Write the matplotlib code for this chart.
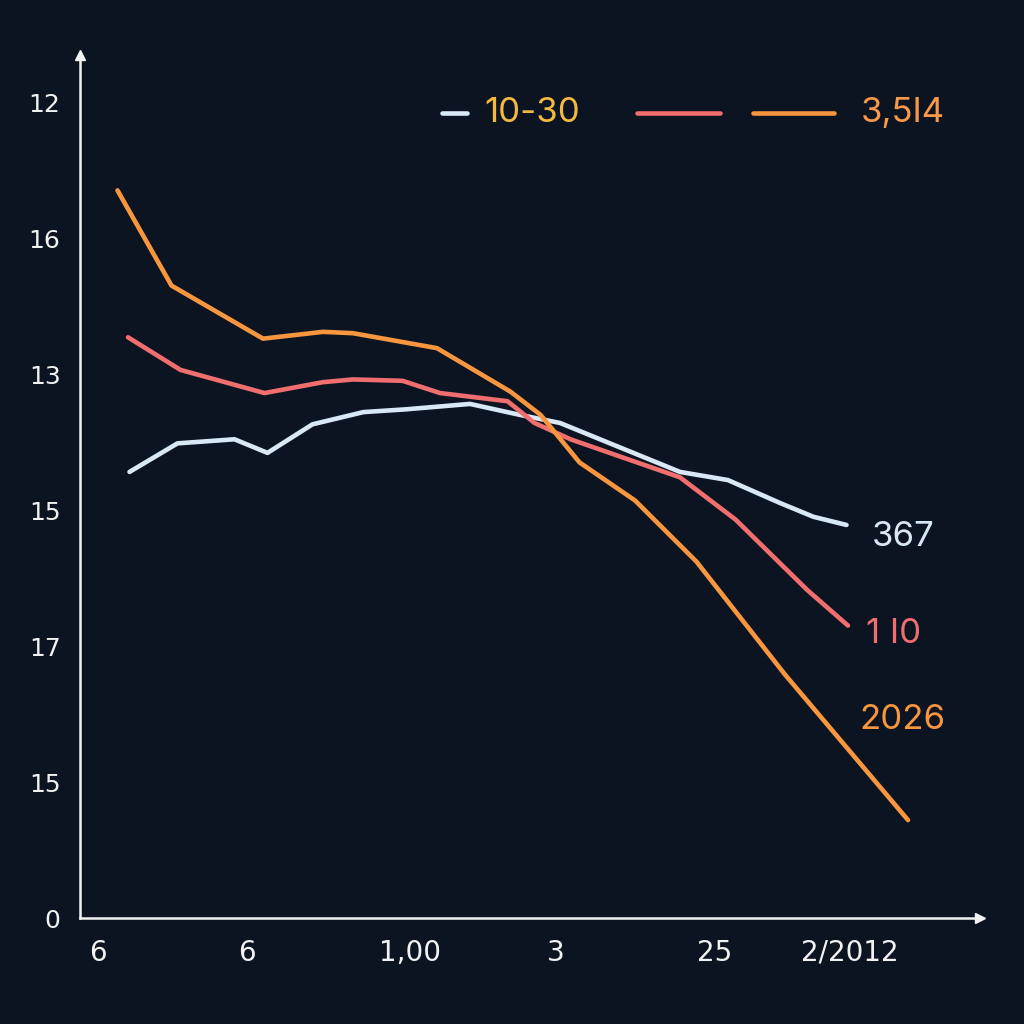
import matplotlib
matplotlib.use("Agg")
import matplotlib.pyplot as plt
from matplotlib.lines import Line2D

# ---- data ----
x_white = [0.33, 0.65, 1.03, 1.25, 1.55, 1.89, 2.17, 2.60, 2.93, 3.20, 4.00, 4.32, 4.67, 4.89, 5.11]
y_white = [3.28, 3.49, 3.52, 3.42, 3.63, 3.72, 3.74, 3.78, 3.70, 3.64, 3.28, 3.22, 3.05, 2.95, 2.89]

x_red = [0.32, 0.67, 1.23, 1.62, 1.82, 2.15, 2.40, 2.85, 3.03, 3.27, 4.00, 4.37, 4.85, 5.12]
y_red = [4.27, 4.03, 3.86, 3.94, 3.96, 3.95, 3.86, 3.80, 3.64, 3.52, 3.24, 2.93, 2.41, 2.15]

x_orange = [0.25, 0.61, 1.22, 1.62, 1.82, 2.38, 2.87, 3.07, 3.33, 3.70, 4.11, 4.70, 5.52]
y_orange = [5.35, 4.65, 4.26, 4.31, 4.30, 4.19, 3.87, 3.70, 3.35, 3.07, 2.62, 1.79, 0.72]

y_tick_pos = [0, 1, 2, 3, 4, 5, 6]
y_tick_labels = ["0", "15", "17", "15", "13", "16", "12"]
x_tick_pos = [0.12, 1.11, 2.20, 3.17, 4.23, 5.13]
x_tick_labels = ["6", "6", "1,00", "3", "25", "2/2012"]

legend_labels = ["10-30", "", "3,5I4"]
end_labels = ["367", "1 I0", "2026"]

# ---- style ----
BG = "#0d1421"
C_WHITE = "#d8e9f5"
C_RED = "#f06e6e"
C_ORANGE = "#f7963f"
C_LEG1 = "#f4b941"
C_LEG3 = "#f7984a"
AX = "#f2f2f2"

fig = plt.figure(figsize=(10.24, 10.24), dpi=100, facecolor=BG)
ax = fig.add_axes([80/1024, (1024-918)/1024, (980-80)/1024, (918-55)/1024])
ax.set_facecolor(BG)
ax.set_xlim(0, 6.0)
ax.set_ylim(0, (918-55)/136)

for s in ["top", "right"]:
    ax.spines[s].set_visible(False)
for s in ["left", "bottom"]:
    ax.spines[s].set_color(AX)
    ax.spines[s].set_linewidth(1.8)

# arrow heads
ax.plot(1, 0, ">", color=AX, markersize=7, transform=ax.transAxes, clip_on=False)
ax.plot(0, 1, "^", color=AX, markersize=7, transform=ax.transAxes, clip_on=False)

ax.set_yticks(y_tick_pos)
ax.set_yticklabels(y_tick_labels, fontsize=18, color=AX, family="DejaVu Sans")
ax.set_xticks(x_tick_pos)
ax.set_xticklabels(x_tick_labels, fontsize=20, color=AX, family="DejaVu Sans")
ax.tick_params(axis="both", length=0)
ax.tick_params(axis="y", pad=14)
ax.tick_params(axis="x", pad=15)

lw = 3.3
ax.plot(x_white, y_white, color=C_WHITE, lw=lw, solid_capstyle="round", solid_joinstyle="round")
ax.plot(x_red, y_red, color=C_RED, lw=lw, solid_capstyle="round", solid_joinstyle="round")
ax.plot(x_orange, y_orange, color=C_ORANGE, lw=lw, solid_capstyle="round", solid_joinstyle="round")

# end labels
fs_end = 25
ax.annotate(end_labels[0], (x_white[-1], y_white[-1]), xytext=(18, -9),
            textcoords="offset points", color=C_WHITE, fontsize=fs_end,
            va="center", ha="left", family="Inter")
ax.annotate(end_labels[1], (x_red[-1], y_red[-1]), xytext=(13, -6),
            textcoords="offset points", color=C_RED, fontsize=fs_end,
            va="center", ha="left", family="Inter")
ax.annotate(end_labels[2], (x_orange[-1], y_orange[-1]), xytext=(-35, 72),
            textcoords="offset points", color=C_ORANGE, fontsize=fs_end,
            va="center", ha="left", family="Inter")

# legend drawn in figure coordinates
def fx(p):
    return p / 1024
def fy(p):
    return 1 - p / 1024

ly = fy(113)
fig.add_artist(Line2D([fx(442), fx(467)], [ly, ly], color=C_WHITE, lw=3.3, solid_capstyle="round"))
fig.text(fx(484), ly, legend_labels[0], color=C_LEG1, fontsize=25, va="center", ha="left", family="Inter")
fig.add_artist(Line2D([fx(637), fx(720)], [ly, ly], color=C_RED, lw=3.3, solid_capstyle="round"))
fig.add_artist(Line2D([fx(753), fx(834)], [ly, ly], color=C_ORANGE, lw=3.3, solid_capstyle="round"))
fig.text(fx(861), ly, legend_labels[2], color=C_LEG3, fontsize=25, va="center", ha="left", family="Inter")

fig.savefig("out.png", dpi=100, facecolor=BG)
